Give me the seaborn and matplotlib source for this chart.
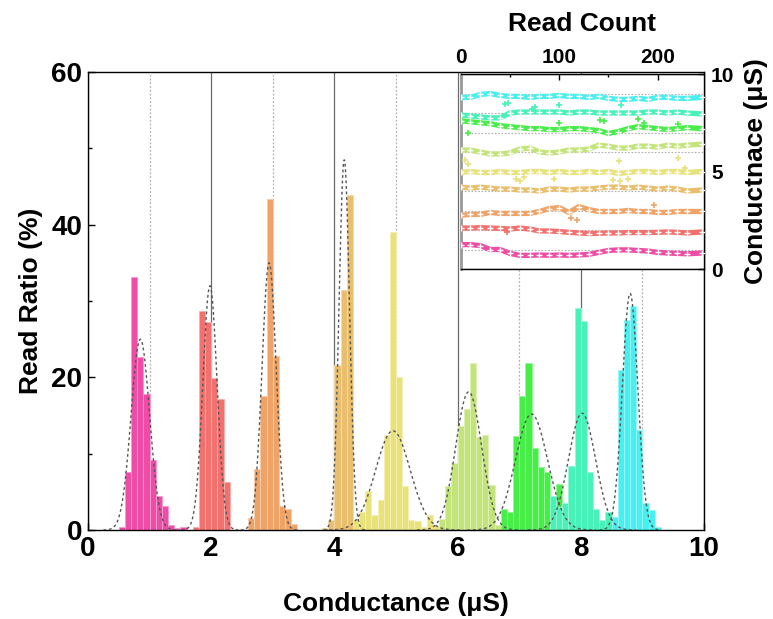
import numpy as np
import pandas as pd
import matplotlib
matplotlib.use("Agg")
import matplotlib.pyplot as plt
import matplotlib.colors as mcolors
from matplotlib.ticker import MultipleLocator
import seaborn as sns

sns.set_theme(style="white")
plt.rcParams['font.family'] = ['Liberation Sans', 'DejaVu Sans']
plt.rcParams['font.weight'] = 'bold'
plt.rcParams['text.color'] = 'black'
plt.rcParams['axes.labelcolor'] = 'black'
plt.rcParams['xtick.color'] = 'black'
plt.rcParams['ytick.color'] = 'black'

# ---------------- data ----------------
level_colors = ['#EE4CA6', '#F2716E', '#EFA366', '#E9BE6C', '#E9E27A',
                '#C3E47A', '#47EE47', '#47F2B8', '#47EFEF']

bin_width = 0.1
hist_start = [0.5, 1.7, 2.6, 3.8, 4.3, 5.7, 6.7, 7.5, 8.5]
hist_l1 = [0.35, 7.6, 33.2, 22.7, 17.8, 9.2, 4.5, 3.1, 0.65, 0.3, 0.4]
hist_l2 = [0.35, 28.7, 27.2, 19.9, 17.2, 6.3]
hist_l3 = [1.6, 8.0, 17.6, 43.4, 22.8, 3.1, 2.8, 0.74]
hist_l4 = [0.2, 1.3, 21.6, 31.4, 43.9]
hist_l5 = [1.3, 2.4, 5.1, 1.9, 3.9, 12.4, 39.1, 20.0, 5.7, 1.3, 1.2, 0.35, 2.0, 0.5]
hist_l6 = [1.5, 5.7, 8.8, 13.6, 15.8, 21.9, 12.2, 12.4, 5.9, 0.7]
hist_l7 = [2.8, 2.4, 12.3, 17.6, 21.9, 10.8, 8.3, 7.6, 0.0, 6.0]
hist_l8 = [4.5, 3.0, 3.6, 8.4, 29.1, 27.4, 7.6, 2.7, 1.3, 2.3]
hist_l9 = [1.75, 21.0, 27.5, 29.4, 13.1, 3.6, 2.6, 0.35]
hist_heights = [hist_l1, hist_l2, hist_l3, hist_l4, hist_l5,
                hist_l6, hist_l7, hist_l8, hist_l9]

# Gaussian fit parameters (dotted curves)
fit_center = [0.85, 1.98, 2.94, 4.16, 4.95, 6.18, 7.2, 8.02, 8.8]
fit_sigma = [0.15, 0.115, 0.115, 0.085, 0.28, 0.21, 0.26, 0.22, 0.125]
fit_peak = [25, 32, 35, 48.5, 13, 18.1, 15.2, 15.3, 31]

main_xticks = [0, 2, 4, 6, 8, 10]
main_yticks = [0, 20, 40, 60]

# inset: conductance vs read count
read_count = [0, 10, 20, 30, 40, 50, 60, 70, 80, 90, 100, 110, 120,
              130, 140, 150, 160, 170, 180, 190, 200, 210, 220, 230, 245]
trace_l1 = [1.25, 1.25, 1.2, 1.0, 1.0, 0.8, 0.7, 0.7, 0.72, 0.7, 0.72, 0.7, 0.72,
            0.75, 0.85, 0.95, 0.98, 0.98, 0.95, 0.92, 0.85, 0.82, 0.8, 0.78, 0.82]
trace_l2 = [2.1, 2.1, 2.12, 2.1, 2.08, 2.05, 2.1, 2.05, 1.95, 1.95, 1.92, 1.88, 1.85,
            1.82, 1.83, 1.85, 1.85, 1.87, 1.87, 1.87, 1.88, 1.9, 1.88, 1.85, 1.9]
trace_l3 = [2.75, 2.8, 2.8, 2.9, 2.85, 2.85, 2.85, 2.85, 2.95, 3.1, 3.15, 2.9, 3.2,
            3.05, 2.95, 2.95, 2.95, 3.0, 2.95, 2.95, 2.9, 2.9, 2.95, 2.95, 2.95]
trace_l4 = [4.2, 4.15, 4.2, 4.15, 4.1, 4.1, 4.05, 4.05, 4.0, 4.1, 4.1, 4.05, 4.1,
            4.1, 4.15, 4.2, 4.2, 4.15, 4.2, 4.15, 4.1, 4.15, 4.1, 4.0, 4.05]
trace_l5 = [4.95, 5.0, 4.95, 4.95, 5.0, 4.95, 4.95, 5.0, 5.0, 4.95, 5.0, 4.95, 4.95,
            5.0, 4.95, 5.0, 4.9, 4.95, 5.0, 5.0, 4.95, 5.0, 5.0, 4.95, 5.0]
trace_l6 = [6.1, 6.1, 6.0, 5.9, 5.9, 5.95, 6.15, 6.2, 6.0, 5.95, 6.0, 6.1, 6.1,
            6.15, 6.35, 6.3, 6.2, 6.2, 6.3, 6.3, 6.25, 6.35, 6.3, 6.35, 6.4]
trace_l7 = [7.6, 7.55, 7.5, 7.45, 7.35, 7.3, 7.25, 7.2, 7.2, 7.15, 7.15, 7.2, 7.2,
            7.15, 7.1, 6.95, 7.05, 7.2, 7.3, 7.25, 7.2, 7.15, 7.2, 7.25, 7.2]
trace_l8 = [7.9, 7.85, 7.8, 7.75, 7.75, 8.0, 8.05, 8.05, 8.05, 8.05, 8.05, 8.0, 8.05,
            8.05, 8.0, 8.0, 8.0, 8.0, 8.0, 8.05, 8.05, 8.0, 8.05, 8.0, 7.95]
trace_l9 = [8.8, 8.8, 8.95, 9.0, 8.9, 8.85, 8.85, 8.8, 8.85, 8.85, 8.9, 8.85, 8.85,
            8.8, 8.85, 8.75, 8.7, 8.7, 8.75, 8.7, 8.8, 8.8, 8.75, 8.75, 8.8]
traces = [trace_l1, trace_l2, trace_l3, trace_l4, trace_l5,
          trace_l6, trace_l7, trace_l8, trace_l9]

outlier_read = [45, 48, 72, 76, 100, 163, 141, 146, 180, 186, 221, 100, 8,
                56, 60, 64, 95, 155, 162, 170, 161, 221, 228, 112, 118, 196, 47, 4, 8]
outlier_value = [8.45, 8.5, 8.2, 8.3, 8.4, 8.4, 7.65, 7.6, 7.7, 7.5, 7.45, 7.5, 7.0,
                 4.6, 4.5, 4.7, 4.6, 4.55, 4.5, 4.6, 5.55, 5.7, 5.2, 2.6, 2.5, 3.3, 1.9, 5.6, 5.4]
outlier_level = [8, 8, 8, 8, 8, 8, 7, 7, 7, 7, 7, 7, 7,
                 5, 5, 5, 5, 5, 5, 5, 5, 5, 5, 3, 3, 3, 2, 5, 5]
inset_xticks = [0, 100, 200]
inset_yticks = [0, 5, 10]

# ---------------- figure ----------------
W, H = 773, 619
fig = plt.figure(figsize=(W / 100, H / 100), dpi=100)
ax = fig.add_axes([88 / W, 1 - 530 / H, (704 - 88) / W, (530 - 72) / H])


def lighten(c, f):
    r = np.array(mcolors.to_rgb(c))
    return tuple(r + (1 - r) * f)


for i, heights in enumerate(hist_heights):
    n = len(heights)
    edges = [round(hist_start[i] + bin_width * k, 3) for k in range(n + 1)]
    centers = [(edges[k] + edges[k + 1]) / 2 for k in range(n)]
    df = pd.DataFrame({'g': centers, 'ratio': heights})
    sns.histplot(data=df, x='g', weights='ratio', bins=edges, ax=ax,
                 color=level_colors[i], alpha=1.0,
                 edgecolor=lighten(level_colors[i], 0.45), linewidth=0.7,
                 zorder=2)

for i in range(len(fit_center)):
    xs = np.linspace(fit_center[i] - 4 * fit_sigma[i], fit_center[i] + 4 * fit_sigma[i], 120)
    ys = fit_peak[i] * np.exp(-0.5 * ((xs - fit_center[i]) / fit_sigma[i]) ** 2)
    sns.lineplot(x=xs, y=ys, ax=ax, color='#555555', lw=1.0,
                 linestyle=(0, (2, 2)), zorder=3)

ax.set_xlim(0, 10)
ax.set_ylim(0, 60)
ax.set_xticks(main_xticks)
ax.set_yticks(main_yticks)
ax.xaxis.set_minor_locator(MultipleLocator(1))
ax.yaxis.set_minor_locator(MultipleLocator(10))
ax.set_axisbelow(True)
ax.grid(which='major', axis='x', color='#6a6a6a', lw=0.9, ls='-')
ax.grid(which='minor', axis='x', color='#b0b0b0', lw=0.9, ls=(0, (1.5, 1.5)))
ax.grid(which='major', axis='y', visible=False)
ax.tick_params(which='major', direction='in', length=5, width=1, labelsize=20,
               bottom=True, left=True, pad=4, colors='black')
ax.tick_params(which='minor', direction='in', length=3, width=1, bottom=True, left=True,
               colors='black')
for lab in ax.get_xticklabels() + ax.get_yticklabels():
    lab.set_fontweight('bold')
for s in ax.spines.values():
    s.set_color('black')
    s.set_linewidth(1.0)
ax.set_xlabel('Conductance (μS)', fontsize=19, fontweight='bold', labelpad=22,
              color='black')
ax.set_ylabel('Read Ratio (%)', fontsize=19, fontweight='bold', labelpad=6,
              color='black')

# ---------------- inset ----------------
ins = fig.add_axes([460.6 / W, 1 - 269 / H, (704 - 460.6) / W, (269 - 74) / H])
ins.set_facecolor('white')
ins.set_zorder(5)
for i, tr in enumerate(traces):
    sns.lineplot(x=read_count, y=tr, ax=ins, color=level_colors[i], lw=3.8,
                 marker='+', markersize=4, markeredgewidth=1.0, zorder=3)
out_df = pd.DataFrame({'r': outlier_read, 'v': outlier_value, 'lvl': outlier_level})
for lvl, sub in out_df.groupby('lvl'):
    sns.scatterplot(data=sub, x='r', y='v', ax=ins, marker='+', s=22,
                    color=level_colors[lvl - 1], linewidth=1.2, zorder=3)

ins.set_xlim(0, 247)
ins.set_ylim(0, 10)
ins.set_xticks(inset_xticks)
ins.set_yticks(inset_yticks)
ins.xaxis.set_minor_locator(MultipleLocator(50))
ins.yaxis.set_minor_locator(MultipleLocator(1))
ins.set_axisbelow(True)
ins.grid(which='major', axis='y', color='#777777', lw=1.0, ls='-')
ins.grid(which='minor', axis='y', color='#b0b0b0', lw=0.8, ls=(0, (1.5, 1.5)))
ins.grid(which='major', axis='x', visible=False)
ins.xaxis.tick_top()
ins.yaxis.tick_right()
ins.tick_params(which='major', direction='in', length=4, width=1, labelsize=15,
                top=True, right=True, bottom=False, left=False, pad=5, colors='black')
ins.tick_params(which='minor', direction='in', length=2.5, width=1,
                top=True, right=False, bottom=False, left=False, colors='black')
for lab in ins.get_xticklabels() + ins.get_yticklabels():
    lab.set_fontweight('bold')
ins.xaxis.set_label_position('top')
ins.yaxis.set_label_position('right')
ins.set_xlabel('Read Count', fontsize=19, fontweight='bold', labelpad=12,
               color='black')
ins.set_ylabel('Conductnace (μS)', fontsize=19, fontweight='bold', labelpad=7,
               rotation=90, color='black')
for name, s in ins.spines.items():
    s.set_color('black')
    s.set_linewidth(1.0)
ins.spines['left'].set_color('#999999')
ins.spines['left'].set_linewidth(2.0)

fig.savefig('out.png', dpi=100)
